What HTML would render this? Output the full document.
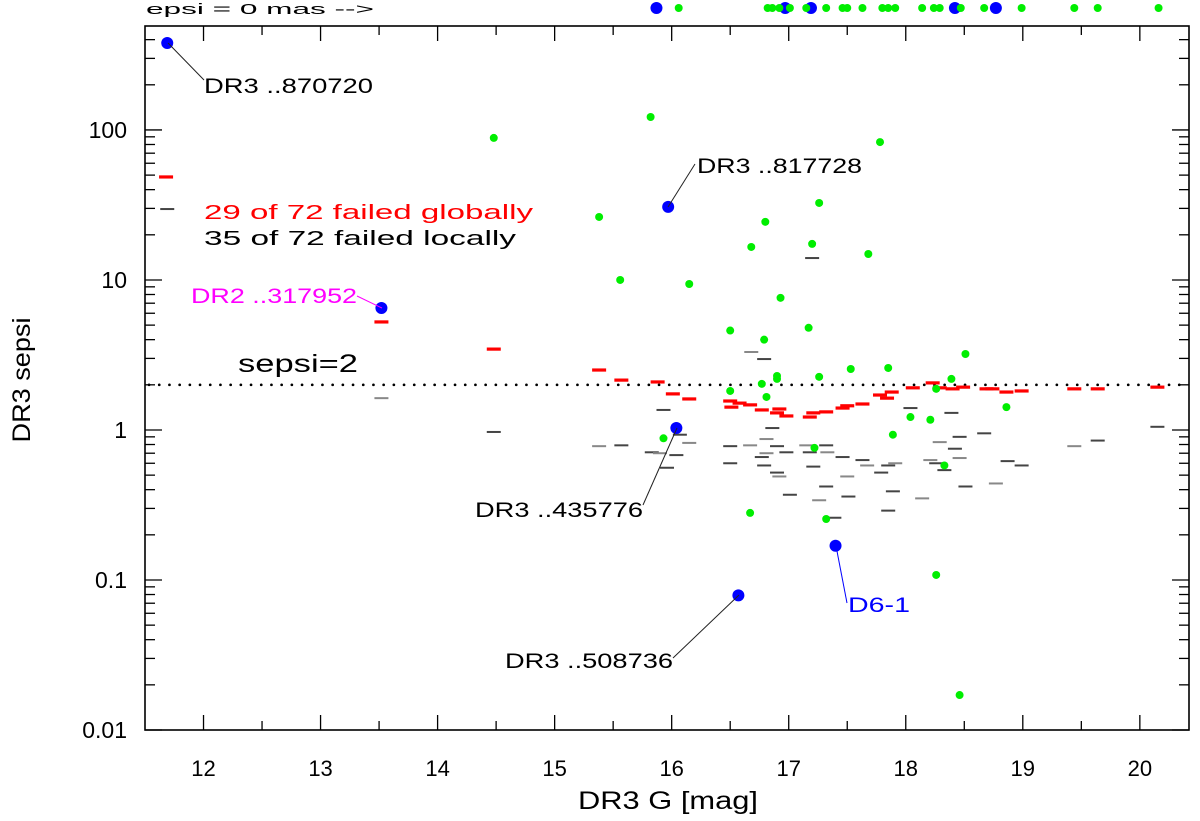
<!DOCTYPE html>
<html><head><meta charset="utf-8"><style>
html,body{margin:0;padding:0;background:#fff;}
svg{display:block;font-family:"Liberation Sans","DejaVu Sans",sans-serif;}
</style></head><body>
<svg id="chart" width="1200" height="821" viewBox="0 0 1200 821">
<g id="marks"></g>
<g id="axes"></g>
<g id="labels">
<text x="146" y="14" font-size="15" textLength="228" lengthAdjust="spacingAndGlyphs">epsi  =  0  mas  --&gt;</text>
<line x1="168" y1="43" x2="204" y2="80" stroke="#222" stroke-width="1"/>
<text x="204" y="93" font-size="21" textLength="169" lengthAdjust="spacingAndGlyphs">DR3 ..870720</text>
<line x1="668" y1="207" x2="695" y2="164" stroke="#222" stroke-width="1"/>
<text x="697" y="173" font-size="21" textLength="165" lengthAdjust="spacingAndGlyphs">DR3 ..817728</text>
<text x="204" y="219" font-size="20" fill="#ff0000" textLength="329" lengthAdjust="spacingAndGlyphs">29  of  72  failed  globally</text>
<text x="204" y="245" font-size="20" fill="#000" textLength="312" lengthAdjust="spacingAndGlyphs">35  of  72  failed  locally</text>
<line x1="357" y1="296" x2="382" y2="308" stroke="#ff00ff" stroke-width="1"/>
<text x="191" y="303" font-size="21" fill="#ff00ff" textLength="166" lengthAdjust="spacingAndGlyphs">DR2 ..317952</text>
<text x="238" y="372" font-size="25" textLength="120" lengthAdjust="spacingAndGlyphs">sepsi=2</text>
<line x1="677" y1="428" x2="643" y2="505" stroke="#222" stroke-width="1"/>
<text x="475" y="517" font-size="21" textLength="168" lengthAdjust="spacingAndGlyphs">DR3 ..435776</text>
<line x1="739" y1="595" x2="673" y2="658" stroke="#222" stroke-width="1"/>
<text x="505" y="668" font-size="21" textLength="168" lengthAdjust="spacingAndGlyphs">DR3 ..508736</text>
<line x1="836" y1="546" x2="847" y2="603" stroke="#0000ff" stroke-width="1"/>
<text x="848" y="612" font-size="21" fill="#0000ff" textLength="62" lengthAdjust="spacingAndGlyphs">D6-1</text>
<text x="668" y="809" font-size="25" text-anchor="middle" textLength="180" lengthAdjust="spacingAndGlyphs">DR3 G [mag]</text>
<text transform="translate(30,380) rotate(-90)" font-size="25" text-anchor="middle" textLength="125" lengthAdjust="spacingAndGlyphs">DR3 sepsi</text>
</g>
</svg>
<script>
// x-axis tick labels and y-axis decade tick labels
const xTicks = [12, 13, 14, 15, 16, 17, 18, 19, 20];
const yTicks = [0.01, 0.1, 1, 10, 100];
const yTickLabels = ["0.01", "0.1", "1", "10", "100"];
const threshold = [2];

// green: sources (G, sepsi)
const greenG = [14.48,15.82,17.78,17.26,15.38,16.80,16.68,17.20,17.68,15.56,16.15,16.93,16.50,17.17,16.79,16.90,16.90,17.26,17.53,17.85,18.51,18.39,18.26,16.77,16.50,16.81,18.04,18.21,17.89,15.93,17.22,18.33,16.67,17.32,18.86,18.26,18.46];
const greenS = [88.5,122,83,32.6,26.3,24.4,16.6,17.4,14.9,10,9.4,7.6,4.6,4.8,4.0,2.29,2.19,2.26,2.55,2.59,3.21,2.19,1.88,2.03,1.82,1.66,1.22,1.17,0.93,0.88,0.76,0.58,0.28,0.255,1.42,0.108,0.0171];

// blue: labelled sources
const blueG = [11.69,15.97,13.52,16.04,16.57,17.40];
const blueS = [380,30.7,6.5,1.03,0.079,0.169];

// epsi = 0 sources drawn in the top strip
const zeroBlueG = [15.87,16.97,17.19,18.42,18.77];
const zeroGreenG = [16.06,16.82,16.86,16.92,17.01,17.15,17.32,17.46,17.50,17.63,17.80,17.85,17.91,18.14,18.24,18.29,18.47,18.67,18.99,19.44,19.64,20.16];

// red: global thresholds
const redG = [11.68,13.52,14.48,15.38,15.57,15.88,16.01,16.15,16.50,16.58,16.67,16.51,16.77,16.92,16.90,16.98,17.18,17.21,17.32,17.46,17.50,17.63,17.78,17.84,17.88,18.06,18.23,18.29,18.40,18.49,18.69,18.74,18.86,18.99,19.44,19.64,20.15];
const redS = [48.6,5.25,3.46,2.51,2.15,2.09,1.74,1.61,1.56,1.51,1.47,1.42,1.36,1.38,1.30,1.24,1.22,1.30,1.32,1.40,1.45,1.49,1.71,1.63,1.79,1.91,2.06,1.91,1.88,1.93,1.88,1.88,1.79,1.82,1.88,1.88,1.93];

// gray: local thresholds
const grayG = [11.69,13.52,14.48,17.20,16.68,16.79,15.93,15.38,15.57,15.83,15.90,16.04,16.07,16.15,15.96,16.50,16.67,16.50,16.86,16.81,16.90,16.77,16.81,16.79,16.90,16.92,17.01,16.98,17.15,17.32,17.18,17.33,17.21,17.32,17.26,17.39,17.46,17.50,17.51,17.63,17.67,17.79,17.85,17.91,17.89,17.85,18.14,18.04,18.39,18.29,18.42,18.46,18.21,18.26,18.33,18.46,18.51,18.67,18.77,18.87,18.99,19.44,19.64,20.15];
const grayS = [29.7,1.63,0.97,14.0,3.31,2.97,1.36,0.78,0.79,0.71,0.70,0.68,0.93,0.82,0.56,0.78,0.79,0.60,1.03,0.87,0.78,0.66,0.70,0.58,0.52,0.49,0.37,0.71,0.79,0.79,0.71,0.71,0.57,0.42,0.34,0.26,0.66,0.49,0.36,0.63,0.58,0.52,0.58,0.60,0.39,0.29,0.35,1.40,1.30,0.83,0.75,0.90,0.63,0.60,0.54,0.65,0.42,0.95,0.44,0.62,0.58,0.78,0.85,1.05];

const L=145, R=1189, T=26, B=730, XMIN=11.5, XMAX=20.42, LMIN=-2, LMAX=2.693;
const NS="http://www.w3.org/2000/svg";
function xs(g){return L+(g-XMIN)/(XMAX-XMIN)*(R-L);}
function ys(v){return B-(Math.log10(v)-LMIN)/(LMAX-LMIN)*(B-T);}
function mk(tag,attrs,parent){const e=document.createElementNS(NS,tag);for(const k in attrs)e.setAttribute(k,attrs[k]);parent.appendChild(e);return e;}
const marks=document.getElementById('marks'), axes=document.getElementById('axes');

threshold.forEach(t=>{
  const e=mk('line',{x1:L+4,x2:R,y1:ys(t),y2:ys(t),stroke:'#000','stroke-width':2.6,'stroke-dasharray':'0.1 10.1','stroke-linecap':'round'},marks);
  
  
});
grayG.forEach((g,i)=>{
  const e=mk('rect',{x:xs(g)-7,y:ys(grayS[i])-1,width:14,height:2,fill:i%3==1?'#888':'#444'},marks);
  
  
});
redG.forEach((g,i)=>{
  const e=mk('rect',{x:xs(g)-7,y:ys(redS[i])-1.6,width:14,height:3.2,fill:'#ff0000'},marks);
  
  
});
greenG.forEach((g,i)=>{
  const e=mk('circle',{cx:xs(g),cy:ys(greenS[i]),r:4,fill:'#00ee00'},marks);
  
  
});
blueG.forEach((g,i)=>{
  const e=mk('circle',{cx:xs(g),cy:ys(blueS[i]),r:6,fill:'#0000ff'},marks);
  
  
});
zeroBlueG.forEach(g=>{
  const e=mk('circle',{cx:xs(g),cy:8,r:6,fill:'#0000ff'},marks);
  
  
});
zeroGreenG.forEach(g=>{
  const e=mk('circle',{cx:xs(g),cy:8,r:4,fill:'#00ee00'},marks);
  
  
});

const fr=mk('rect',{x:L,y:T,width:R-L,height:B-T,fill:'none',stroke:'#000','stroke-width':1.6},axes);


for(let g=11.5;g<=XMAX+1e-6;g+=0.5){
  const x=xs(g); if(x<=L+1) continue;
  const len=(Math.abs(g-Math.round(g))<1e-6)?15:9;
  mk('line',{x1:x,x2:x,y1:B,y2:B-len,stroke:'#000','stroke-width':1.3},axes);
  mk('line',{x1:x,x2:x,y1:T,y2:T+len,stroke:'#000','stroke-width':1.3},axes);
}
xTicks.forEach(g=>{
  const t=mk('text',{x:xs(g),y:776,'font-size':22,'text-anchor':'middle'},axes);
  t.textContent=g;
  
  
});
for(let d=-2;d<=2;d++){
  for(let m=1;m<=9;m++){
    const v=m*Math.pow(10,d); const y=ys(v);
    if(y<T+1||y>B) continue;
    const len=m==1?17:10;
    mk('line',{x1:L,x2:L+len,y1:y,y2:y,stroke:'#000','stroke-width':1.3},axes);
    mk('line',{x1:R,x2:R-len,y1:y,y2:y,stroke:'#000','stroke-width':1.3},axes);
  }
}
yTicks.forEach((v,i)=>{
  const t=mk('text',{x:127,y:ys(v)+8,'font-size':23,'text-anchor':'end'},axes);
  t.textContent=yTickLabels[i];
  
  
});
</script>
</body></html>
